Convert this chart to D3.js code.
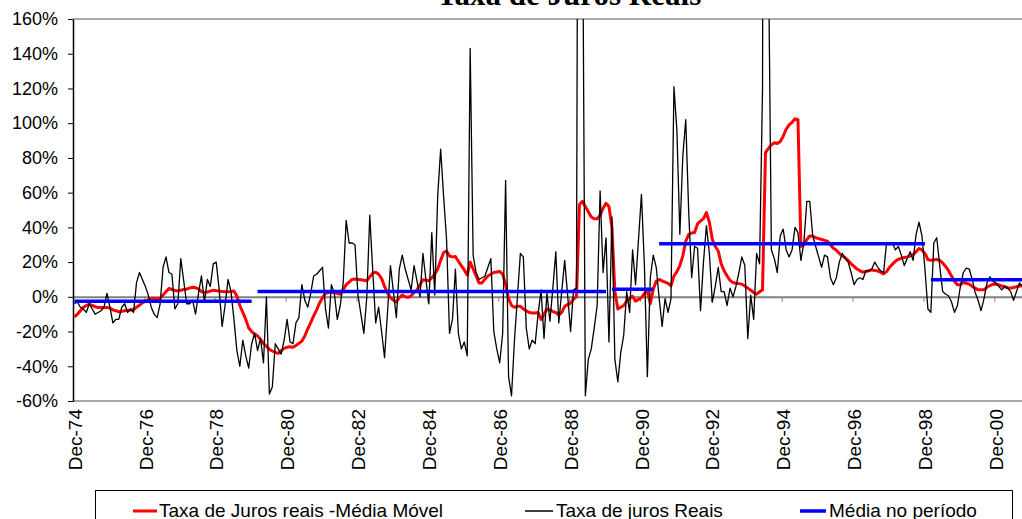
<!DOCTYPE html>
<html>
<head>
<meta charset="utf-8">
<script src="https://cdn.jsdelivr.net/npm/d3@7"></script>
<style>
  html, body { margin: 0; padding: 0; background: #fff; overflow: hidden; }
  svg { display: block; }
</style>
</head>
<body>
<svg id="chart" width="1022" height="519"></svg>
<script>
// Monthly categories: Dec-74 through Sep-01
const months = d3.timeMonth.range(new Date(1974, 11, 1), new Date(2001, 9, 1));

// Category labels shown on the horizontal axis
const tickLabels = ["Dec-74", "Dec-76", "Dec-78", "Dec-80", "Dec-82", "Dec-84", "Dec-86",
                    "Dec-88", "Dec-90", "Dec-92", "Dec-94", "Dec-96", "Dec-98", "Dec-00"];

// Value axis ticks (%)
const yTicks = [-60, -40, -20, 0, 20, 40, 60, 80, 100, 120, 140, 160];

// Taxa de juros reais, monthly (%), one row per year
const realRate = [
  -4,
  -3, -6, -7, -9, -4, -7, -10, -9, -8, -6, 2, -6,
  -15, -13, -13, -6, -4, -9, -7, -9, 8, 14, 10, 6,
  1, -6, -10, -12, -4, 17, 23, 14, 13, -7, -4, 22,
  9, -4, -4, -2, -10, 2, 12, -3, 10, 6, 19, 20,
  4, -17, -5, 10, 3, -13, -31, -40, -25, -34, -41, -27,
  -21, -31, -24, -38, 0, -56, -52, -27, -30, -33, -25, -13,
  -26, -27, -15, -12, 7, -2, -6, 2, 12, 13, 15, 17,
  -7, -18, 7, 2, -13, -5, 8, 44, 31, 31, 30, 1,
  -10, -21, 0, 47, 15, -15, -6, -20, -35, -9, 18, 3,
  -12, 16, 24, 16, 10, 4, 18, 9, 0, 25, 10, -4,
  37, 1, 58, 85, 58, 33, -21, -13, 16, -21, -30, -26,
  -34, 143, 24, 14, 10, 11, 12, 17, 22, -20, -30, -38,
  -21, 67, -46, -57, -25, 0, 25, 23, -18, -30, -25, -27,
  -10, 4, -24, 2, -14, 5, 26, -15, 3, 21, 1, -20,
  4, 5, 600, 250, -57, -36, -30, -18, -5, 61, 14, 34,
  -26, 46, -36, -49, -32, -22, 3, -9, 27, 7, 33, 59,
  18, -46, 11, 24, 17, -1, -17, -1, -9, -1, 121, 96,
  36, 81, 102, 49, 11, 29, 28, -8, 20, 41, 25, -3,
  6, 17, 3, 3, -5, 5, 0, 6, 14, 23, 18, -24,
  1, -13, 25, 19, 120, 900, 200, 27, 22, 14, 35, 39,
  27, 23, 27, 40, 37, 21, 31, 55, 55, 35, 29, 23,
  17, 24, 23, 11, 7, 11, 20, 25, 22, 20, 14, 7,
  10, 11, 10, 15, 15, 16, 20, 17, 15, 14, 31, 30,
  31, 27, 29, 24, 18, 22, 26, 21, 36, 43, 35, 16,
  -7, -9, 31, 34, 18, 3, 1.5, 0.6, -3, -9, -5, 6,
  14, 16.5, 16, 10, 2.5, -2, -8, -1, 8, 11.5, 9, 8,
  6, 4, 6, 5, 3, -2, 3, 8, 6
];

// Taxa de juros reais - média móvel de 12 meses (%)
const movingAvg = [
  -11.5,
  -10, -8, -6, -5, -4.2, -5, -5.7, -6.2, -6.2, -6.1, -6.1, -6.5,
  -7.5, -8, -8.6, -8.4, -8, -7.8, -7.6, -7.3, -6, -4.8, -3.5, -2.5,
  -1.6, -1.2, -1, -1.3, -1, 1, 3, 4.8, 4.2, 3.6, 3.4, 3.8,
  4.2, 4.5, 5, 5.5, 5.2, 4.6, 3, 2.4, 2.8, 3.3, 3.8, 3.5,
  3.4, 3, 2.9, 2.9, 3.1, 3.4, 0.5, -5, -9, -13, -18, -20,
  -21.5, -22.5, -24.5, -26.8, -28.5, -30.3, -31.2, -32, -32.6, -31, -29.7, -29,
  -28.8, -29, -28, -26.8, -25.5, -22.5, -18.5, -14.8, -11, -7.5, -3.5, -0.5,
  2, 2.5, 2.5, 2.5, 2, 1.5, 4, 7, 8.5, 10, 10.2, 10,
  9.8, 9.5, 9.2, 11.5, 13.6, 14.2, 13, 10.5, 6, 2.1, -0.5, -2,
  -2.9, -0.5, 1, 0, -0.3, 0.6, 2.5, 4, 7, 9.8, 9.5, 9.2,
  11, 13, 16, 21, 25.5, 26.4, 23.5, 23, 23.2, 20.5, 18, 15.5,
  12.5, 20, 16, 12, 8, 8, 10.2, 12, 13, 14, 14.3, 14.6,
  13, 7, -1, -5, -6, -5.5, -5.5, -7, -8, -9, -9.3, -9.3,
  -9, -13, -10, -7, -7.5, -8.5, -9, -10.5, -9, -5.5, -4.5, -3.6,
  -1.3, 0, 53, 55, 52, 49, 46, 45, 45, 47, 51, 53.8,
  52, 40, 3, -7, -6, -5, -2.5, -1, 0.3, -2.5, -1.5, -0.5,
  2, 3.4, -4, 4.4, 9, 10, 9.2, 8.5, 7.8, 6.3, 12, 14.5,
  18, 23.6, 32, 36, 36.8, 37, 42, 43.7, 45, 48.5, 43, 33,
  29, 26.4, 19, 15, 12, 9.5, 8.2, 7.8, 7.6, 7.3, 6.2, 5,
  3.8, 2.5, 1.5, 2.9, 4, 83, 85.5, 87.5, 88.7, 88.3, 89.5, 92.5,
  96.5, 99, 100.5, 102.5, 102, 29, 30, 33, 35, 35, 34, 33.5,
  33, 32.5, 32, 30, 28, 26.8, 25, 23.6, 22.5, 21, 19, 17.5,
  16, 15, 14.2, 14.6, 15, 15.5, 15.2, 14.9, 14, 13.2, 14.5, 17,
  18.8, 20.5, 21.6, 22.2, 22.6, 23, 23.5, 24.3, 26, 27.8, 27, 25,
  21.5, 21, 21.3, 21.5, 21, 19.5, 17.5, 15, 12, 9, 7, 7,
  8.2, 7.8, 7.3, 6, 5, 4, 4, 4, 5.5, 6.5, 7.2, 7.2,
  6.9, 6.2, 5.8, 5.2, 5, 5.4, 5.8, 6.3, 6.3
];

// Média no período: first month, last month and mean (%) of each sub-period
const periodStart = ["Dec-74", "Feb-80", "Feb-90", "Jun-91", "Feb-99"];
const periodEnd   = ["Dec-79", "Dec-89", "Apr-91", "Dec-98", "Sep-01"];
const periodMean  = [-2.6, 3.0, 4.4, 30.5, 9.8];

// ---------------------------------------------------------------------------
const fmt = d3.timeFormat("%b-%y");
const monthLabels = months.map(fmt);
const idxOf = lab => monthLabels.indexOf(lab);

const W = 1022, H = 519;
const plot = { left: 73, top: 19, bottom: 401 };
const catW = 2.953;
const sansFont = "'Liberation Sans', Arial, sans-serif";

const svg = d3.select("#chart");

const x = d3.scaleLinear()
  .domain([-0.5, months.length - 0.5])
  .range([plot.left, plot.left + months.length * catW]);

const y = d3.scaleLinear()
  .domain([-60, 160])
  .range([plot.bottom, plot.top]);

// Title
svg.append("text")
  .attr("x", 569).attr("y", 5)
  .attr("text-anchor", "middle")
  .attr("font-family", "'Liberation Serif', 'Times New Roman', serif")
  .attr("font-weight", "bold")
  .attr("font-size", 31)
  .attr("fill", "#000")
  .text("Taxa de Juros Reais");

// Plot-area border (top and bottom)
[plot.top, plot.bottom].forEach(yy => {
  svg.append("line")
    .attr("x1", plot.left).attr("x2", W)
    .attr("y1", yy).attr("y2", yy)
    .attr("stroke", "#8c8c8c").attr("stroke-width", 1.5);
});

// Category axis crossing at 0%: gray line with tick marks every two years
const boundaries = tickLabels.map(l => idxOf(l) - 0.5);
const zeroAxis = svg.append("g")
  .attr("transform", `translate(0,${y(0)})`)
  .call(d3.axisBottom(x).tickValues(boundaries).tickSize(5).tickSizeOuter(0).tickFormat(""));
zeroAxis.select(".domain").attr("stroke", "#808080").attr("stroke-width", 2);
zeroAxis.selectAll(".tick line").attr("stroke", "#808080").attr("stroke-width", 1);

// Category labels at the bottom, rotated
const labelAxis = svg.append("g")
  .attr("transform", `translate(0,${plot.bottom})`)
  .call(d3.axisBottom(x)
    .tickValues(tickLabels.map(idxOf))
    .tickSize(0)
    .tickFormat(i => monthLabels[i]));
labelAxis.select(".domain").remove();
labelAxis.selectAll("text")
  .attr("font-family", sansFont)
  .attr("font-size", 19)
  .attr("fill", "#000")
  .attr("text-anchor", "end")
  .attr("x", 0).attr("y", 0)
  .attr("dy", "0.35em")
  .attr("transform", "translate(0,8) rotate(-90)");

// Clip for series
svg.append("clipPath").attr("id", "plotClip")
  .append("rect")
  .attr("x", plot.left).attr("y", plot.top)
  .attr("width", W - plot.left).attr("height", plot.bottom - plot.top);

const series = svg.append("g").attr("clip-path", "url(#plotClip)");
const line = d3.line().x((d, i) => x(i)).y(d => y(d));

series.append("path")
  .datum(movingAvg)
  .attr("d", line)
  .attr("fill", "none")
  .attr("stroke", "#ff0000")
  .attr("stroke-width", 3)
  .attr("stroke-linejoin", "round");

series.append("path")
  .datum(realRate)
  .attr("d", line)
  .attr("fill", "none")
  .attr("stroke", "#000")
  .attr("stroke-width", 1.3)
  .attr("stroke-linejoin", "round");

periodMean.forEach((m, k) => {
  series.append("line")
    .attr("x1", x(idxOf(periodStart[k])))
    .attr("x2", x(idxOf(periodEnd[k])))
    .attr("y1", y(m)).attr("y2", y(m))
    .attr("stroke", "#0000ff")
    .attr("stroke-width", 3.5);
});

// Value axis
const yAxis = svg.append("g")
  .attr("transform", `translate(${plot.left},0)`)
  .call(d3.axisLeft(y).tickValues(yTicks).tickSize(5).tickSizeOuter(0).tickPadding(10)
    .tickFormat(d => d + "%"));
yAxis.select(".domain").attr("stroke", "#000").attr("stroke-width", 1.5);
yAxis.selectAll(".tick line").attr("stroke", "#000");
yAxis.selectAll("text")
  .attr("font-family", sansFont)
  .attr("font-size", 18)
  .attr("fill", "#000");

// Legend
const legend = svg.append("g");
legend.append("rect")
  .attr("x", 95.5).attr("y", 490.5)
  .attr("width", 917).attr("height", 40)
  .attr("fill", "#fff").attr("stroke", "#000").attr("stroke-width", 1);

const legendItems = [
  { label: "Taxa de Juros reais -Média Móvel", color: "#ff0000", width: 3, x1: 133, x2: 157, tx: 159 },
  { label: "Taxa de juros Reais", color: "#000", width: 1.5, x1: 525, x2: 553, tx: 556 },
  { label: "Média no período", color: "#0000ff", width: 3.5, x1: 800, x2: 826, tx: 829 }
];
legendItems.forEach(it => {
  legend.append("line")
    .attr("x1", it.x1).attr("x2", it.x2)
    .attr("y1", 511).attr("y2", 511)
    .attr("stroke", it.color).attr("stroke-width", it.width);
  legend.append("text")
    .attr("x", it.tx).attr("y", 517)
    .attr("font-family", sansFont)
    .attr("font-size", 19)
    .attr("fill", "#000")
    .text(it.label);
});
</script>
</body>
</html>
